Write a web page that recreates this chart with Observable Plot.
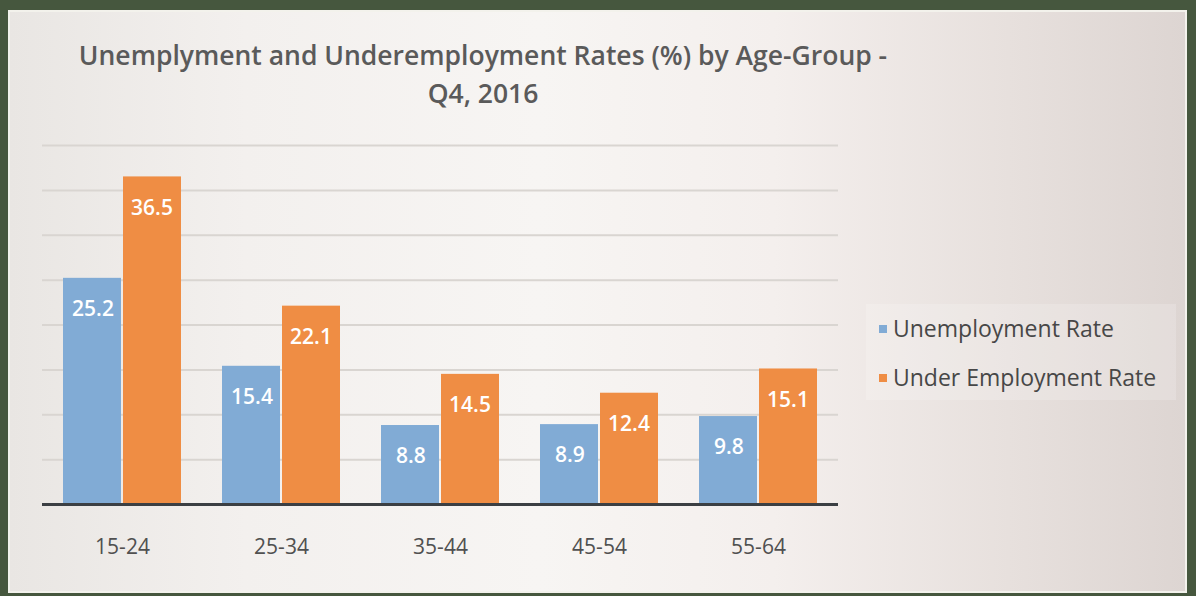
<!DOCTYPE html>
<html>
<head>
<meta charset="utf-8">
<script src="https://cdn.jsdelivr.net/npm/d3@7"></script>
<script src="https://cdn.jsdelivr.net/npm/@observablehq/plot@0.6"></script>
<style>
  html, body { margin: 0; padding: 0; }
  body { width: 1196px; height: 596px; overflow: hidden; font-family: "Open Sans", sans-serif; }
  #frame { position: absolute; left: 0; top: 0; width: 1196px; height: 596px; background: #46573e; }
  #panel { position: absolute; left: 8px; top: 10px; right: 9px; bottom: 3px; border: 2px solid #f3f2ec;
    background: linear-gradient(90deg, #e9e6e3 0%, #f3f0ee 20%, #f7f5f3 45%, #f4efed 65%, #e7e0dd 85%, #ddd5d2 100%); }
  #title { position: absolute; left: 0; width: 966px; top: 36px; text-align: center; font-size: 26.5px; font-weight: 600;
    line-height: 38px; color: #5a5a5a; }
  #chart { position: absolute; left: 0; top: 0; }
  #legend { position: absolute; left: 866px; top: 304px; width: 310px; height: 96px; background: rgba(255,255,255,0.18); }
  .item { position: absolute; left: 13px; font-size: 23px; color: #474747; white-space: nowrap; line-height: 26px; }
  .sw { display: inline-block; width: 8px; height: 8px; margin-right: 6px; vertical-align: 4px; }
</style>
</head>
<body>
<div id="frame">
  <div id="panel"></div>
  <div id="title">Unemplyment and Underemployment Rates (%) by Age-Group -<br>Q4, 2016</div>
  <div id="chart"></div>
  <div id="legend"></div>
</div>
<script>
const groups = ["15-24", "25-34", "35-44", "45-54", "55-64"];
const unemployment = [25.2, 15.4, 8.8, 8.9, 9.8];
const underemployment = [36.5, 22.1, 14.5, 12.4, 15.1];
const seriesNames = ["Unemployment Rate", "Under Employment Rate"];
const seriesColors = ["#81abd5", "#ef8d44"];
const gridValues = [5, 10, 15, 20, 25, 30, 35, 40];

const fontFamily = "'Open Sans', sans-serif";
const half = 60;

const plot = Plot.plot({
  width: 1196,
  height: 596,
  marginLeft: 42,
  marginRight: 358,
  marginTop: 145,
  marginBottom: 92,
  style: { background: "transparent", fontFamily: fontFamily, overflow: "visible" },
  x: { domain: groups, paddingInner: 0.26, paddingOuter: 0.13, axis: null },
  y: { domain: [0, 40], axis: null },
  marks: [
    Plot.ruleY(gridValues, { stroke: "#d9d5d1", strokeWidth: 2 }),
    Plot.barY(unemployment, { x: groups, y: unemployment, fill: seriesColors[0], insetRight: half }),
    Plot.barY(underemployment, { x: groups, y: underemployment, fill: seriesColors[1], insetLeft: half }),
    Plot.ruleY([0], { stroke: "#3b3f43", strokeWidth: 3 }),
    Plot.text(unemployment, { x: groups, y: unemployment, text: d => d.toFixed(1), dx: -29.5, dy: 31,
      fill: "white", fontSize: 21, fontWeight: 600 }),
    Plot.text(underemployment, { x: groups, y: underemployment, text: d => d.toFixed(1), dx: 29.5, dy: 31,
      fill: "white", fontSize: 21, fontWeight: 600 }),
    Plot.axisX({ tickSize: 0, tickPadding: 35, fontSize: 21, fill: "#505050", stroke: null })
  ]
});
document.getElementById("chart").appendChild(plot);

const legend = document.getElementById("legend");
seriesNames.forEach((name, i) => {
  const div = document.createElement("div");
  div.className = "item";
  div.style.top = (11 + i * 49) + "px";
  div.innerHTML = `<span class="sw" style="background:${seriesColors[i]}"></span>${name}`;
  legend.appendChild(div);
});
</script>
</body>
</html>
